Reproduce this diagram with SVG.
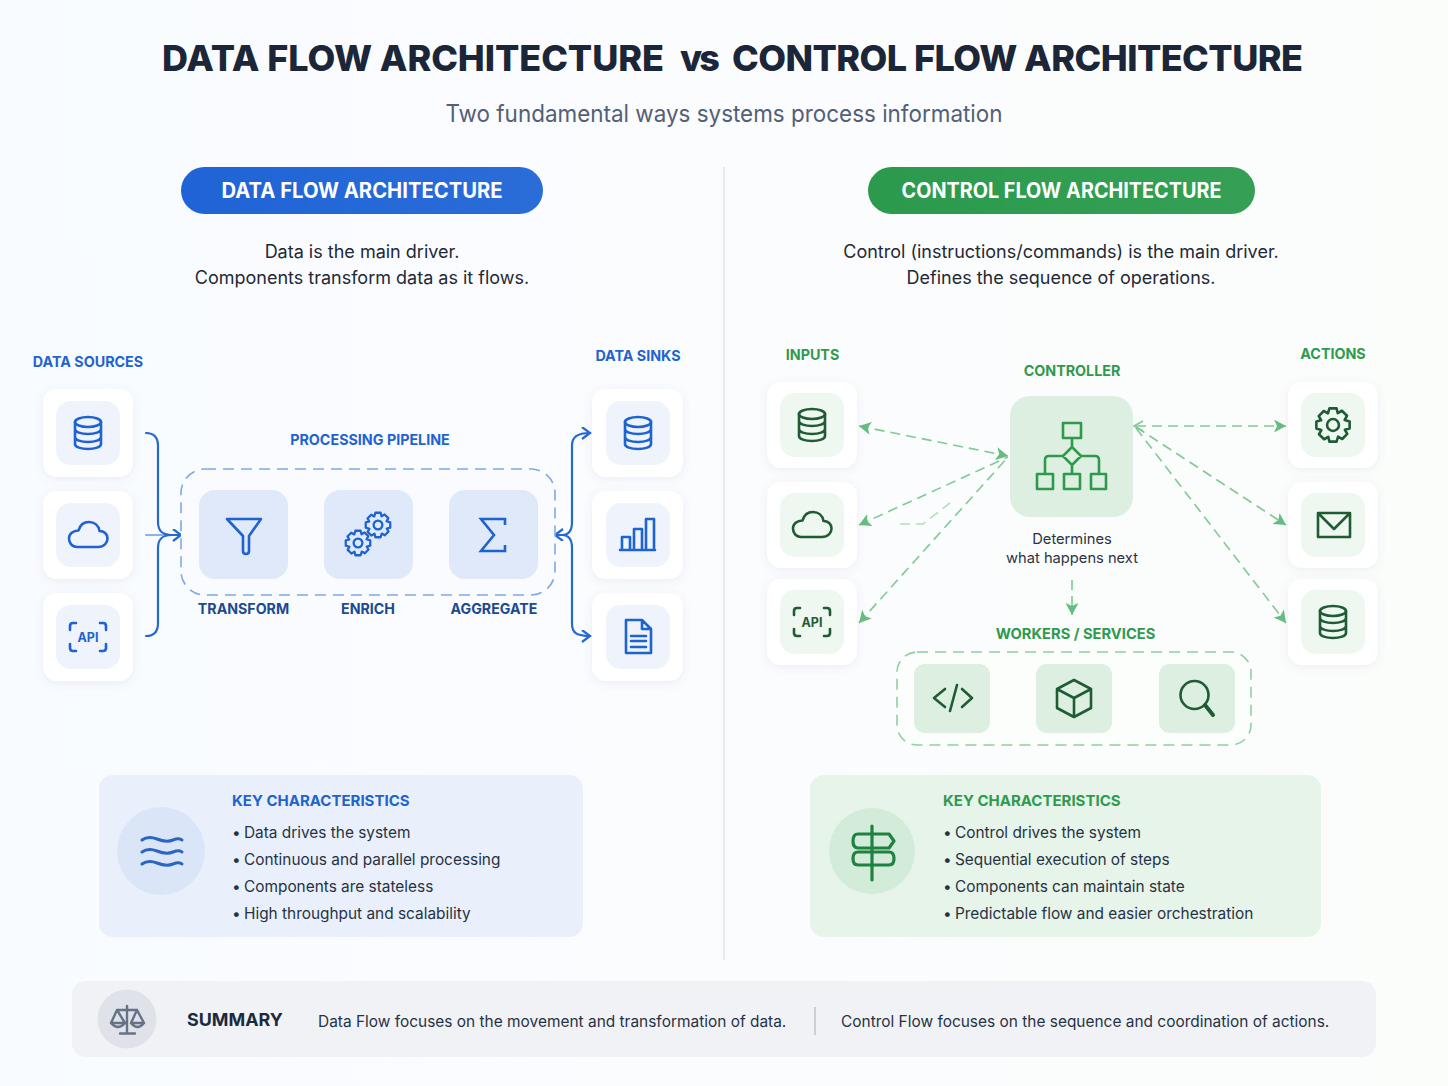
<svg xmlns="http://www.w3.org/2000/svg" width="1448" height="1086" viewBox="0 0 1448 1086">
<style>
text{font-family:Inter,"Liberation Sans",sans-serif}
.b{color:#1f63d0}.g{color:#1f5c36}.gm{color:#2f9a4e}
.i{fill:none;stroke:currentColor;stroke-width:var(--sw,2.6);stroke-linecap:round;stroke-linejoin:round}
.card{fill:#fff;filter:url(#sh)}
.ib{fill:#eef3fc}.ig{fill:#eef7f0}
.tb{fill:#dfe9f9}.tg{fill:#dcefe0}
.lb{font-size:14.3px;font-weight:700;fill:#1f63d0;text-anchor:middle}
.lg{font-size:14.3px;font-weight:700;fill:#2f9a4e;text-anchor:middle}
.ls{font-size:14.2px;font-weight:700;fill:#1d4a8f;text-anchor:middle}
.d{font-size:18px;fill:#1f2937;text-anchor:middle}
.k{font-size:15.4px;fill:#263244}
.kh{font-size:15px;font-weight:700}
.p{font-size:21px;font-weight:700;fill:#fff;text-anchor:middle}
.s{font-size:15.45px;fill:#263244}
.t{font-size:36px;font-weight:800;fill:#1b2638}
.cb{fill:none;stroke:#2468d2;stroke-width:2.2;stroke-linecap:round}
.cg{fill:none;stroke:#7fca95;stroke-width:1.6;stroke-dasharray:10 6}
</style>
<defs>
<linearGradient id="bg" x1="0" x2="1" y1="0" y2="0"><stop offset="0" stop-color="#f8fbff"/><stop offset=".5" stop-color="#fbfcfe"/><stop offset="1" stop-color="#fbfdfb"/></linearGradient>
<linearGradient id="pb" x1="0" x2="1"><stop offset="0" stop-color="#2063d6"/><stop offset="1" stop-color="#2a6dd8"/></linearGradient>
<linearGradient id="pg" x1="0" x2="1"><stop offset="0" stop-color="#2b9a4d"/><stop offset="1" stop-color="#35a055"/></linearGradient>
<filter id="sh" x="-20%" y="-20%" width="140%" height="140%"><feDropShadow dx="0" dy="2" stdDeviation="4" flood-color="#5a6b8c" flood-opacity=".1"/></filter>
<marker id="ab" markerWidth="14" markerHeight="14" refX="10" refY="6" orient="auto-start-reverse" markerUnits="userSpaceOnUse"><path d="M2 0L10 6L2 12" fill="none" stroke="#2468d2" stroke-width="2.2"/></marker>
<marker id="ag" markerWidth="14" markerHeight="14" refX="12" refY="6.500" orient="auto-start-reverse" markerUnits="userSpaceOnUse"><path d="M0 0L12 6.500L0 13L3 6.500Z" fill="#66bd80"/></marker>
<symbol id="db" viewBox="-32 -32 64 64" width="64" height="64"><g class="i"><ellipse cx="0" cy="-11" rx="13" ry="5"/><path d="M-13 -11V11C-13 14 -7 16 0 16S13 14 13 11V-11M-13 -4C-13 -1 -7 1 0 1S13 -1 13 -4M-13 4C-13 7 -7 9 0 9S13 7 13 4"/></g></symbol>
<symbol id="cloud" viewBox="-32 -32 64 64" width="64" height="64"><path class="i" d="M-11 12H10C16 12 19.500 8 19.500 3.500C19.500 -1 16 -4 11.500 -4C10.500 -10 6 -13 1 -13C-4 -13 -8 -10 -9.500 -4.500C-15 -4.500 -19 -1 -19 3.500C-19 8 -16 12 -11 12Z"/></symbol>
<symbol id="api" viewBox="-32 -32 64 64" width="64" height="64"><path class="i" d="M-12 -14H-15Q-18 -14 -18 -11V-7M12 -14H15Q18 -14 18 -11V-7M-18 7V11Q-18 14 -15 14H-12M18 7V11Q18 14 15 14H12"/><text x="0" y="4.500" font-size="12.500" font-weight="700" text-anchor="middle" fill="currentColor">API</text></symbol>
<symbol id="gear" viewBox="-16 -16 32 32" width="32" height="32"><g class="i"><circle r="5"/><path d="M-3 -14H3L4 -10L7.500 -12L11.800 -7.800L9.800 -4.300L14 -3V3L10 4L12 7.500L7.800 11.800L4.300 9.800L3 14H-3L-4 10L-7.500 12L-11.800 7.800L-9.800 4.300L-14 3V-3L-10 -4L-12 -7.500L-7.800 -11.800L-4.300 -9.800Z"/></g></symbol>
</defs>
<rect width="1448" height="1086" fill="url(#bg)"/>
<text class="t" x="162" y="71" textLength="502">DATA FLOW ARCHITECTURE</text>
<text class="t" x="680" y="71" textLength="40">vs</text>
<text class="t" x="732" y="71" textLength="571">CONTROL FLOW ARCHITECTURE</text>
<text x="724" y="122" font-size="24" fill="#536075" text-anchor="middle" textLength="557" lengthAdjust="spacingAndGlyphs">Two fundamental ways systems process information</text>
<path d="M724 167V960" stroke="#d9dee5" stroke-width="1.200"/>

<g id="data-header"><rect x="181" y="167" width="362" height="47" rx="23.500" fill="url(#pb)"/><text class="p" x="362" y="198" textLength="281" lengthAdjust="spacingAndGlyphs">DATA FLOW ARCHITECTURE</text>
<text class="d" x="362" y="258">Data is the main driver.</text><text class="d" x="362" y="284">Components transform data as it flows.</text></g>
<g id="control-header"><rect x="868" y="167" width="387" height="47" rx="23.500" fill="url(#pg)"/><text class="p" x="1061.500" y="198" textLength="320" lengthAdjust="spacingAndGlyphs">CONTROL FLOW ARCHITECTURE</text>
<text class="d" x="1061" y="258">Control (instructions/commands) is the main driver.</text><text class="d" x="1061" y="284">Defines the sequence of operations.</text></g>

<g id="connectors">
<path class="cb" d="M146 433C154 433 158 437 158 446V522C158 531 162 535 172 535M146 636C154 636 158 632 158 623V548C158 539 162 535 172 535"/>
<path class="cb" d="M146 535H181" stroke-opacity=".5" marker-end="url(#ab)"/>
<path class="cb" d="M172 535H181"/>
<path class="cb" d="M555 535H562C568 535 572 531 572 522V446C572 437 577 433 590 433" marker-start="url(#ab)" marker-end="url(#ab)"/>
<path class="cb" d="M562 535C568 535 572 539 572 548V624C572 633 577 636 590 636" marker-end="url(#ab)"/>
<path class="cb" d="M299 535H316" marker-end="url(#ab)"/><path class="cb" d="M423 535H441" marker-end="url(#ab)"/>
<g class="cg">
<path d="M859 426L1008 456" marker-start="url(#ag)" marker-end="url(#ag)"/>
<path d="M859 525L1008 457" marker-start="url(#ag)"/>
<path d="M859 623L1008 457" marker-start="url(#ag)"/>
<path d="M900 524H923L950 503" stroke-opacity=".6"/>
<path d="M1136 426H1286" marker-end="url(#ag)"/>
<path d="M1136 427L1286 525" marker-end="url(#ag)"/>
<path d="M1136 428L1286 623" marker-end="url(#ag)"/>
<path d="M1072 580V615" marker-end="url(#ag)"/>
<path d="M1143 421L1134 426L1143 431" style="stroke-dasharray:none"/>
</g>
</g>

<g id="data-sources"><text class="lb" x="88" y="367">DATA SOURCES</text></g>
<g id="src-db"><rect class="card" x="43" y="389" width="90" height="88" rx="14"/><rect class="ib" x="56" y="401" width="64" height="64" rx="15"/><use href="#db" x="56" y="401" class="b"/></g>
<g id="src-cloud"><rect class="card" x="43" y="491" width="90" height="88" rx="14"/><rect class="ib" x="56" y="503" width="64" height="64" rx="15"/><use href="#cloud" x="56" y="503" class="b"/></g>
<g id="src-api"><rect class="card" x="43" y="593" width="90" height="88" rx="14"/><rect class="ib" x="56" y="605" width="64" height="64" rx="15"/><use href="#api" x="56" y="605" class="b"/></g>

<g id="pipeline"><text class="lb" x="370" y="445">PROCESSING PIPELINE</text><rect x="181" y="469" width="374" height="126" rx="24" fill="#f9fbfe" stroke="#7fa8e6" stroke-width="1.600" stroke-dasharray="11 7"/></g>
<g id="transform"><rect class="tb" x="199" y="490" width="89" height="89" rx="16"/><path class="i b" d="M227 519H261L249 536V551C249 555 243 555 243 551V536Z"/><text class="ls" x="243.500" y="614">TRANSFORM</text></g>
<g id="enrich"><rect class="tb" x="324" y="490" width="89" height="89" rx="16"/><use href="#gear" x="344" y="529" width="28" height="28" class="b"/><use href="#gear" x="364" y="511" width="28" height="28" class="b"/><text class="ls" x="368" y="614">ENRICH</text></g>
<g id="aggregate"><rect class="tb" x="449" y="490" width="89" height="89" rx="16"/><path class="i b" style="stroke-linecap:butt;stroke-linejoin:miter" d="M505 525V519H481L494 535L481 551H505V545"/><text class="ls" x="494" y="614">AGGREGATE</text></g>

<g id="data-sinks"><text class="lb" x="638" y="361">DATA SINKS</text></g>
<g id="sink-db"><rect class="card" x="592" y="389" width="91" height="88" rx="14"/><rect class="ib" x="606" y="401" width="64" height="64" rx="15"/><use href="#db" x="606" y="401" class="b"/></g>
<g id="sink-chart"><rect class="card" x="592" y="491" width="91" height="88" rx="14"/><rect class="ib" x="606" y="503" width="64" height="64" rx="15"/><path class="i b" d="M620 550H655M622 550V537H630V550M634 550V529H642V550M646 550V519H654V550"/></g>
<g id="sink-doc"><rect class="card" x="592" y="593" width="91" height="88" rx="14"/><rect class="ib" x="606" y="605" width="64" height="64" rx="15"/><path class="i b" d="M626 620H642L651 629V653H626ZM642 620V629H651M631 636H646M631 641H646M631 647H646"/></g>

<g id="inputs"><text class="lg" x="812.500" y="360">INPUTS</text></g>
<g id="in-db"><rect class="card" x="767" y="382" width="90" height="86" rx="14"/><rect class="ig" x="780" y="393" width="64" height="64" rx="15"/><use href="#db" x="780" y="393" class="g"/></g>
<g id="in-cloud"><rect class="card" x="767" y="482" width="90" height="86" rx="14"/><rect class="ig" x="780" y="493" width="64" height="64" rx="15"/><use href="#cloud" x="780" y="493" class="g"/></g>
<g id="in-api"><rect class="card" x="767" y="579" width="90" height="86" rx="14"/><rect class="ig" x="780" y="590" width="64" height="64" rx="15"/><use href="#api" x="780" y="590" class="g"/></g>

<g id="controller"><text class="lg" x="1072" y="376">CONTROLLER</text><rect x="1010" y="396" width="123" height="121" rx="20" fill="#dcefe0"/>
<path class="i gm" d="M1063 423H1081V438H1063ZM1072 438V447M1072 447L1081 456L1072 465L1063 456ZM1072 465V474M1063 456H1049Q1045 456 1045 460V474M1081 456H1095Q1099 456 1099 460V474M1037 474H1053V489H1037ZM1064 474H1080V489H1064ZM1091 474H1106V489H1091Z"/>
<text x="1072" y="544" font-size="14.700" fill="#2b3442" text-anchor="middle">Determines</text><text x="1072" y="563" font-size="14.700" fill="#2b3442" text-anchor="middle">what happens next</text></g>

<g id="actions"><text class="lg" x="1333" y="359">ACTIONS</text></g>
<g id="act-gear"><rect class="card" x="1288" y="382" width="90" height="86" rx="14"/><rect class="ig" x="1301" y="393" width="64" height="64" rx="15"/><use href="#gear" x="1314" y="406" width="38" height="38" class="g" style="--sw:2.2"/></g>
<g id="act-mail"><rect class="card" x="1288" y="482" width="90" height="86" rx="14"/><rect class="ig" x="1301" y="493" width="64" height="64" rx="15"/><path class="i g" d="M1318 513H1350V537H1318ZM1319 514L1334 529L1349 514"/></g>
<g id="act-db"><rect class="card" x="1288" y="579" width="90" height="86" rx="14"/><rect class="ig" x="1301" y="590" width="64" height="64" rx="15"/><use href="#db" x="1301" y="590" class="g"/></g>

<g id="workers"><text class="lg" x="1075.500" y="639" style="font-size:14.700px">WORKERS / SERVICES</text><rect x="897" y="652" width="354" height="93" rx="20" fill="#fcfefc" stroke="#8fd0a1" stroke-width="1.600" stroke-dasharray="11 7"/></g>
<g id="w-code"><rect class="tg" x="914" y="664" width="76" height="69" rx="11"/><path class="i g" d="M945 689L934 698L945 707M962 689L972 698L962 707M957 685L950 711"/></g>
<g id="w-box"><rect class="tg" x="1036" y="664" width="76" height="69" rx="11"/><path class="i g" d="M1074 680L1091 689V708L1074 717L1057 708V689ZM1057 689L1074 698L1091 689M1074 698V717"/></g>
<g id="w-search"><rect class="tg" x="1159" y="664" width="76" height="69" rx="11"/><circle class="i g" cx="1194.500" cy="695" r="14"/><path class="i g" style="stroke-width:4" d="M1205 705L1213 715"/></g>

<g id="data-key"><rect x="99" y="775" width="484" height="162" rx="14" fill="#e9f0fb"/><circle cx="161" cy="851" r="44" fill="#dae6f7"/>
<path class="i" style="color:#2a65c0;stroke-width:3" d="M142 840C146 837 152 837 157 839S168 842 173 840S180 838 182 840M142 852C146 849 152 849 157 851S168 854 173 852S180 850 182 852M142 864C146 861 152 861 157 863S168 866 173 864S180 862 182 864"/>
<text class="kh" x="232" y="806" fill="#1f63d0">KEY CHARACTERISTICS</text>
<text class="k" x="232" y="838">•<tspan x="244">Data drives the system</tspan></text><text class="k" x="232" y="865">•<tspan x="244">Continuous and parallel processing</tspan></text><text class="k" x="232" y="892">•<tspan x="244">Components are stateless</tspan></text><text class="k" x="232" y="919">•<tspan x="244">High throughput and scalability</tspan></text></g>
<g id="control-key"><rect x="810" y="775" width="511" height="162" rx="14" fill="#e6f4e9"/><circle cx="872" cy="851" r="43" fill="#d3ebd9"/>
<path class="i" style="color:#1f8240;stroke-width:3.200" d="M872 826V880M858 834H889L894 841L889 848H858Q853 848 853 841T858 834ZM858 852H889Q894 852 894 858.500T889 865H858Q853 865 853 858.500T858 852Z"/>
<text class="kh" x="943" y="806" fill="#2f9a4e">KEY CHARACTERISTICS</text>
<text class="k" x="943" y="838">•<tspan x="955">Control drives the system</tspan></text><text class="k" x="943" y="865">•<tspan x="955">Sequential execution of steps</tspan></text><text class="k" x="943" y="892">•<tspan x="955">Components can maintain state</tspan></text><text class="k" x="943" y="919">•<tspan x="955">Predictable flow and easier orchestration</tspan></text></g>
<g id="summary"><rect x="72" y="981" width="1304" height="76" rx="14" fill="#f1f2f6"/><circle cx="127" cy="1019" r="29.500" fill="#dfe2e8"/>
<path class="i" style="color:#667386;stroke-width:2.400" d="M127 1006V1033M120 1033.500H135M117 1010H137M117 1010L111 1023H125ZM137 1010L131 1023H144ZM111 1023Q118 1031 125 1023M131 1023Q137.500 1031 144 1023"/>
<text x="187" y="1026" font-size="17.900" font-weight="700" fill="#1d2a3e">SUMMARY</text>
<text class="s" x="318" y="1027">Data Flow focuses on the movement and transformation of data.</text>
<path d="M815 1007V1035" stroke="#b9c0cb" stroke-width="1.400"/>
<text class="s" x="841" y="1027">Control Flow focuses on the sequence and coordination of actions.</text></g>
</svg>
